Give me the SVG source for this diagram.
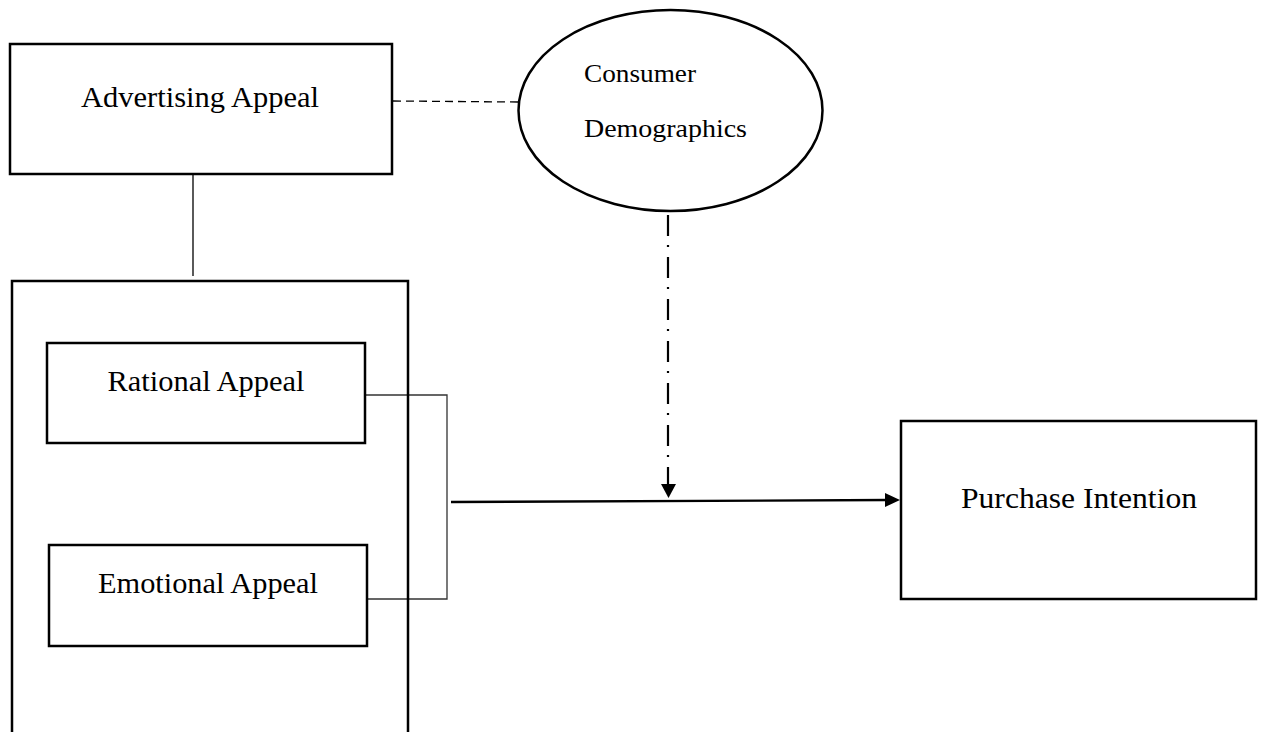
<svg xmlns="http://www.w3.org/2000/svg" width="1261" height="732" viewBox="0 0 1261 732">
<style>
.box{fill:#fff;stroke:#000;stroke-width:2.5}
.lbl{font-family:"Liberation Serif",serif;font-size:29px;fill:#000}
.sm{font-family:"Liberation Serif",serif;font-size:25px;fill:#000}
.thin{stroke:#333;stroke-width:1.3;fill:none}
</style>
<rect width="1261" height="732" fill="#fff"/>
<g id="connectors">
<line x1="393" y1="101" x2="518" y2="102" stroke="#000" stroke-width="1.3" stroke-dasharray="8,5"/>
<line x1="193" y1="175" x2="193" y2="276" stroke="#000" stroke-width="1.3"/>
<polyline class="thin" points="366,395 447,395 447,599 368,599"/>
<line x1="451" y1="502" x2="888" y2="500" stroke="#000" stroke-width="2.3"/>
<path d="M885,493 L900,500 L885,507 z" fill="#000"/>
<line x1="668" y1="215" x2="668" y2="484" stroke="#000" stroke-width="2.2" stroke-dasharray="21,9,2,10"/>
<path d="M661,484 L676,484 L668.5,498 z" fill="#000"/>
</g>
<g id="advertising-appeal">
<rect class="box" x="10" y="44" width="382" height="130" stroke-width="3"/>
<text class="lbl" x="200" y="107" text-anchor="middle" textLength="238" lengthAdjust="spacingAndGlyphs">Advertising Appeal</text>
</g>
<g id="consumer-demographics">
<ellipse cx="670.5" cy="110.5" rx="152" ry="100.5" fill="#fff" stroke="#000" stroke-width="2.5"/>
<text class="sm" x="584" y="82" textLength="112" lengthAdjust="spacingAndGlyphs">Consumer</text>
<text class="sm" x="584" y="137" textLength="163" lengthAdjust="spacingAndGlyphs">Demographics</text>
</g>
<g id="appeal-group">
<path d="M12,740 L12,281 L408,281 L408,740" fill="none" stroke="#000" stroke-width="2.5"/>
</g>
<g id="rational-appeal">
<rect class="box" x="47" y="343" width="318" height="100"/>
<text class="lbl" x="206" y="391" text-anchor="middle" textLength="197" lengthAdjust="spacingAndGlyphs">Rational Appeal</text>
</g>
<g id="emotional-appeal">
<rect class="box" x="49" y="545" width="318" height="101"/>
<text class="lbl" x="208" y="593" text-anchor="middle" textLength="220" lengthAdjust="spacingAndGlyphs">Emotional Appeal</text>
</g>
<g id="purchase-intention">
<rect class="box" x="901" y="421" width="355" height="178"/>
<text class="lbl" x="1079" y="508" text-anchor="middle" textLength="236" lengthAdjust="spacingAndGlyphs">Purchase Intention</text>
</g>
</svg>
